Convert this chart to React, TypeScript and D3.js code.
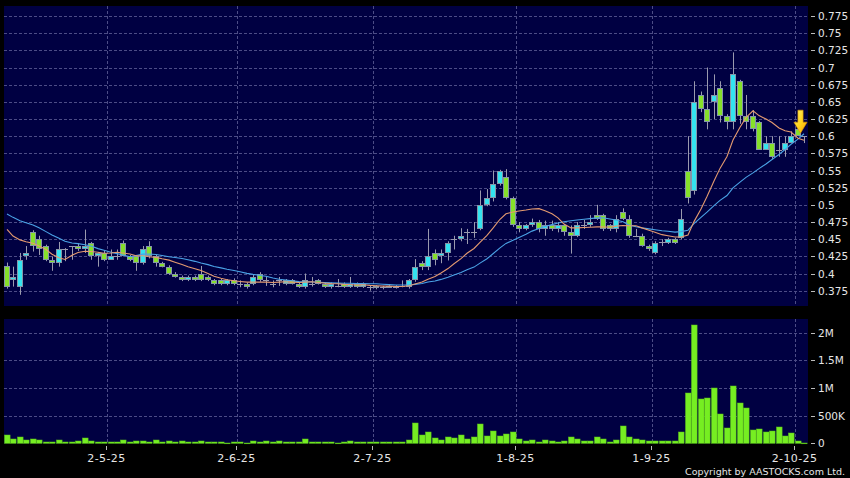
import React from "react";
import * as d3 from "d3";

// ---------- DATA ----------
const tradingDates: string[] = [
  "2025-04-07","2025-04-08","2025-04-09","2025-04-10","2025-04-11","2025-04-14","2025-04-15","2025-04-16","2025-04-17","2025-04-22","2025-04-23","2025-04-24","2025-04-25","2025-04-28","2025-04-29","2025-04-30",
  "2025-05-02","2025-05-06","2025-05-07","2025-05-08","2025-05-09","2025-05-12","2025-05-13","2025-05-14","2025-05-15","2025-05-16","2025-05-19","2025-05-20","2025-05-21","2025-05-22","2025-05-23","2025-05-26","2025-05-27","2025-05-28","2025-05-29","2025-05-30",
  "2025-06-02","2025-06-03","2025-06-04","2025-06-05","2025-06-06","2025-06-09","2025-06-10","2025-06-11","2025-06-12","2025-06-13","2025-06-16","2025-06-17","2025-06-18","2025-06-19","2025-06-20","2025-06-23","2025-06-24","2025-06-25","2025-06-26","2025-06-27","2025-06-30",
  "2025-07-02","2025-07-03","2025-07-04","2025-07-07","2025-07-08","2025-07-09","2025-07-10","2025-07-11","2025-07-14","2025-07-15","2025-07-16","2025-07-17","2025-07-18","2025-07-21","2025-07-22","2025-07-23","2025-07-24","2025-07-25","2025-07-28","2025-07-29","2025-07-30","2025-07-31",
  "2025-08-01","2025-08-04","2025-08-05","2025-08-06","2025-08-07","2025-08-08","2025-08-11","2025-08-12","2025-08-13","2025-08-14","2025-08-15","2025-08-18","2025-08-19","2025-08-20","2025-08-21","2025-08-22","2025-08-25","2025-08-26","2025-08-27","2025-08-28","2025-08-29",
  "2025-09-01","2025-09-02","2025-09-03","2025-09-04","2025-09-05","2025-09-08","2025-09-09","2025-09-10","2025-09-11","2025-09-12","2025-09-15","2025-09-16","2025-09-17","2025-09-18","2025-09-19","2025-09-22","2025-09-23","2025-09-24","2025-09-25","2025-09-26","2025-09-29","2025-09-30",
  "2025-10-02","2025-10-03",
];

const opens: number[] = [
  0.411,0.390,0.380,0.425,0.460,0.450,0.440,0.420,0.415,0.435,
  0.440,0.440,0.435,0.445,0.425,0.430,0.420,0.425,0.445,0.425,
  0.425,0.415,0.440,0.425,0.415,0.410,0.400,0.395,0.390,0.395,
  0.400,0.395,0.390,0.390,0.385,0.390,0.385,0.385,0.385,0.400,
  0.390,0.385,0.390,0.385,0.390,0.385,0.380,0.385,0.390,0.385,
  0.380,0.382,0.385,0.380,0.385,0.380,0.380,0.382,0.380,0.382,
  0.380,0.382,0.380,0.390,0.415,0.410,0.430,0.425,0.430,0.450,
  0.450,0.460,0.460,0.465,0.500,0.510,0.530,0.540,0.510,0.470,
  0.465,0.470,0.475,0.465,0.470,0.465,0.470,0.460,0.455,0.470,
  0.470,0.485,0.485,0.470,0.465,0.490,0.480,0.455,0.455,0.440,
  0.430,0.446,0.445,0.450,0.452,0.550,0.520,0.660,0.640,0.650,
  0.670,0.630,0.620,0.680,0.630,0.630,0.620,0.580,0.590,0.580,
  0.580,0.590,0.610,0.600,
];
const highs: number[] = [
  0.416,0.410,0.430,0.440,0.463,0.455,0.442,0.425,0.446,0.437,
  0.440,0.444,0.464,0.446,0.431,0.433,0.435,0.435,0.448,0.427,
  0.427,0.440,0.447,0.427,0.417,0.412,0.402,0.397,0.397,0.397,
  0.411,0.397,0.392,0.392,0.392,0.393,0.390,0.387,0.398,0.402,
  0.395,0.390,0.395,0.392,0.392,0.387,0.400,0.395,0.392,0.387,
  0.387,0.392,0.387,0.395,0.387,0.387,0.383,0.383,0.382,0.383,
  0.383,0.390,0.392,0.421,0.418,0.465,0.435,0.435,0.447,0.455,
  0.466,0.465,0.475,0.521,0.523,0.550,0.551,0.552,0.512,0.475,
  0.472,0.480,0.478,0.477,0.477,0.475,0.472,0.470,0.475,0.478,
  0.485,0.500,0.487,0.472,0.485,0.495,0.485,0.465,0.458,0.442,
  0.447,0.450,0.452,0.452,0.494,0.600,0.680,0.665,0.700,0.690,
  0.680,0.632,0.722,0.682,0.660,0.638,0.622,0.600,0.600,0.600,
  0.600,0.607,0.620,0.600,
];
const lows: number[] = [
  0.378,0.381,0.369,0.420,0.432,0.427,0.418,0.404,0.410,0.418,
  0.420,0.433,0.430,0.420,0.410,0.418,0.420,0.420,0.425,0.418,
  0.404,0.413,0.422,0.410,0.409,0.398,0.394,0.389,0.389,0.389,
  0.389,0.389,0.383,0.383,0.383,0.383,0.380,0.378,0.383,0.388,
  0.382,0.380,0.382,0.383,0.384,0.379,0.378,0.381,0.384,0.379,
  0.378,0.380,0.379,0.379,0.379,0.379,0.375,0.377,0.377,0.379,
  0.378,0.380,0.378,0.388,0.405,0.405,0.412,0.415,0.419,0.435,
  0.447,0.443,0.452,0.463,0.498,0.505,0.528,0.508,0.468,0.460,
  0.463,0.468,0.460,0.455,0.462,0.460,0.455,0.429,0.453,0.465,
  0.468,0.478,0.462,0.462,0.460,0.478,0.452,0.453,0.439,0.433,
  0.428,0.440,0.443,0.443,0.450,0.502,0.515,0.635,0.610,0.625,
  0.620,0.610,0.610,0.618,0.610,0.607,0.580,0.580,0.567,0.570,
  0.570,0.590,0.600,0.590,
];
const closes: number[] = [
  0.380,0.395,0.420,0.430,0.440,0.435,0.420,0.415,0.435,0.435,
  0.440,0.435,0.440,0.425,0.430,0.420,0.425,0.425,0.425,0.420,
  0.415,0.435,0.425,0.415,0.410,0.400,0.395,0.390,0.395,0.390,
  0.390,0.390,0.385,0.385,0.390,0.385,0.385,0.380,0.395,0.390,
  0.390,0.385,0.390,0.390,0.385,0.380,0.390,0.385,0.385,0.380,
  0.385,0.382,0.380,0.385,0.380,0.385,0.380,0.380,0.380,0.380,
  0.380,0.382,0.390,0.410,0.410,0.425,0.420,0.430,0.445,0.450,
  0.455,0.460,0.460,0.500,0.510,0.530,0.550,0.510,0.470,0.465,
  0.470,0.475,0.465,0.470,0.465,0.470,0.460,0.455,0.470,0.470,
  0.475,0.480,0.465,0.465,0.480,0.480,0.455,0.455,0.440,0.435,
  0.445,0.446,0.450,0.445,0.480,0.510,0.650,0.640,0.620,0.660,
  0.630,0.620,0.690,0.630,0.620,0.610,0.580,0.590,0.570,0.580,
  0.590,0.600,0.600,0.600,
];
const volumes: number[] = [
  145000,72000,108000,60000,72000,54000,24000,24000,54000,30000,
  30000,36000,90000,42000,30000,30000,18000,24000,54000,24000,
  48000,48000,24000,60000,24000,42000,30000,42000,24000,24000,
  48000,24000,18000,18000,12000,30000,24000,6000,36000,30000,
  36000,24000,42000,24000,24000,30000,72000,18000,18000,18000,
  18000,6000,18000,48000,24000,30000,24000,18000,30000,24000,
  30000,24000,66000,361000,157000,205000,102000,54000,114000,96000,
  151000,72000,108000,343000,133000,217000,133000,163000,211000,72000,
  42000,54000,18000,66000,36000,18000,42000,114000,78000,48000,
  48000,114000,78000,18000,60000,313000,114000,84000,60000,42000,
  42000,42000,42000,36000,211000,910000,2133000,795000,825000,994000,
  524000,277000,1030000,729000,645000,241000,259000,199000,217000,295000,
  127000,187000,42000,12000,
];
// moving-average values for the first days (history before the window)
const ma10Head: number[] = [0.4644,0.4546,0.449,0.4464,0.444,0.440,0.435,0.428,0.423];
const ma20Head: number[] = [0.4867,0.4818,0.477,0.474,0.4707,0.4667,0.461,0.456,0.4513,0.447,0.4445,0.4435,0.442,0.440,0.4363,0.434,0.431,0.429,0.427];

const priceTicks: number[] = [0.375,0.4,0.425,0.45,0.475,0.5,0.525,0.55,0.575,0.6,0.625,0.65,0.675,0.7,0.725,0.75,0.775];
const volumeTicks: number[] = [0,500000,1000000,1500000,2000000];
const volumeTickLabels: string[] = ["0","500K","1M","1.5M","2M"];
const xTickDates: string[] = ["2025-05-02","2025-06-02","2025-07-02","2025-08-01","2025-09-01","2025-10-02"];
const xTickLabels: string[] = ["2-5-25","2-6-25","2-7-25","1-8-25","1-9-25","2-10-25"];
const markerDate = "2025-10-02";

// ---------- STYLE ----------
const NAVY = "#000042";
const GRID = "#4c4c86";
const UP = "#34e3f0";
const DOWN = "#86e02a";
const EDGE = "#8595a8";
const WICK = "#9a9aae";
const MA10C = "#e49a70";
const MA20C = "#4aa2e6";
const VOL = "#76ee22";
const TXT = "#e6e6e6";
const FONT = "'DejaVu Sans', Verdana, sans-serif";

function sma(n: number, head: number[]): number[] {
  return closes.map((_, i) => {
    if (i < head.length) return head[i];
    const s = d3.sum(closes.slice(i - n + 1, i + 1));
    return s / n;
  });
}

export default function App() {
  React.useEffect(() => {
    document.body.style.margin = "0";
    document.body.style.background = "#000";
  }, []);

  const W = 850, H = 478;
  const left = 4, right = 808;
  const pTop = 6, pBot = 306;
  const vTop = 319, vBot = 443.3;

  const x = d3.scaleBand<string>().domain(tradingDates).range([3.5, 807.7]).paddingInner(0.2).paddingOuter(0.1);
  const step = x.step();
  const cx = (d: string) => Math.round((x(d) as number) + x.bandwidth() / 2);
  const slotLeft = (d: string) => Math.round((x(d) as number) - (step * 0.2) / 2) + 0.5;

  const yP = d3.scaleLinear().domain([0.375, 0.775]).range([290.7, 16]);
  const yV = d3.scaleLinear().domain([0, 2000000]).range([vBot, 332.7]);

  const ma10 = sma(10, ma10Head);
  const ma20 = sma(20, ma20Head);
  const line = d3.line<number>().x((_, i) => cx(tradingDates[i])).y((v) => yP(v));

  const mi = tradingDates.indexOf(markerDate);
  const tx = cx(markerDate) + 2.5;
  const ty = yP(closes[mi]) - 3;
  const arrow = `M${tx - 2.6},${ty - 23} L${tx + 2.6},${ty - 23} L${tx + 2.6},${ty - 11} L${tx + 6.6},${ty - 11} L${tx},${ty} L${tx - 6.6},${ty - 11} L${tx - 2.6},${ty - 11} Z`;

  return (
    <svg width={W} height={H} style={{ position: "absolute", left: 0, top: 0, display: "block" }} xmlns="http://www.w3.org/2000/svg">
      <defs>
        <linearGradient id="arr" x1="0" y1="0" x2="1" y2="1">
          <stop offset="0" stopColor="#fff36a" />
          <stop offset="0.55" stopColor="#ffd21a" />
          <stop offset="1" stopColor="#f5a000" />
        </linearGradient>
        <clipPath id="pclip"><rect x={left} y={pTop} width={right - left} height={pBot - pTop} /></clipPath>
      </defs>
      <rect x={0} y={0} width={W} height={H} fill="#000" />
      <rect x={left} y={pTop} width={right - left} height={pBot - pTop} fill={NAVY} />
      <rect x={left} y={vTop} width={right - left} height={vBot - vTop} fill={NAVY} />

      {/* grid */}
      <g stroke={GRID} strokeWidth={1} strokeDasharray="3,2" fill="none">
        {priceTicks.map((t) => (
          <line key={"pg" + t} x1={left} x2={right} y1={Math.round(yP(t)) + 0.5} y2={Math.round(yP(t)) + 0.5} />
        ))}
        {volumeTicks.slice(1).map((t) => (
          <line key={"vg" + t} x1={left} x2={right} y1={Math.round(yV(t)) + 0.5} y2={Math.round(yV(t)) + 0.5} />
        ))}
        {xTickDates.map((d) => (
          <g key={"xg" + d}>
            <line x1={slotLeft(d)} x2={slotLeft(d)} y1={pTop} y2={pBot} />
            <line x1={slotLeft(d)} x2={slotLeft(d)} y1={vTop} y2={vBot} />
          </g>
        ))}
      </g>

      {/* candles */}
      <g clipPath="url(#pclip)">
        {tradingDates.map((d, i) => {
          const c = cx(d);
          const o = opens[i], cl = closes[i];
          const yTop = Math.round(yP(Math.max(o, cl)));
          const yB = Math.round(yP(Math.min(o, cl)));
          const doji = Math.abs(o - cl) < 1e-9;
          const fill = cl > o ? UP : DOWN;
          return (
            <g key={"c" + d}>
              <line x1={c + 0.5} x2={c + 0.5} y1={yP(highs[i])} y2={yP(lows[i])} stroke={WICK} strokeWidth={1} />
              {doji ? (
                <line x1={c - 3} x2={c + 3} y1={yTop + 0.5} y2={yTop + 0.5} stroke={WICK} strokeWidth={1} />
              ) : (
                <rect x={c - 2.5} y={yTop + 0.5} width={5} height={Math.max(yB - yTop - 1, 1)} fill={fill} stroke={EDGE} strokeWidth={1} />
              )}
            </g>
          );
        })}
        <path d={line(ma20) || ""} fill="none" stroke={MA20C} strokeWidth={1.1} />
        <path d={line(ma10) || ""} fill="none" stroke={MA10C} strokeWidth={1.1} />
        <path d={arrow} fill="url(#arr)" stroke="#d89400" strokeWidth={0.6} />
      </g>

      {/* volume */}
      <g>
        {tradingDates.map((d, i) => {
          const c = cx(d);
          const yt = Math.round(yV(volumes[i]));
          return (
            <rect key={"v" + d} x={c - 2.5} y={yt} width={5.6} height={Math.max(vBot - yt, 0.8)} fill={VOL} stroke="#5cc418" strokeWidth={0.5} />
          );
        })}
      </g>

      {/* price axis */}
      <g fontFamily={FONT} fontSize={10.5} fill={TXT}>
        {priceTicks.map((t) => (
          <g key={"pt" + t}>
            <line x1={811} x2={815} y1={Math.round(yP(t)) + 0.5} y2={Math.round(yP(t)) + 0.5} stroke="#bbbbbb" strokeWidth={1} />
            <text x={818} y={yP(t)} dominantBaseline="central">{String(t)}</text>
          </g>
        ))}
        {volumeTicks.map((t, i) => (
          <g key={"vt" + t}>
            <line x1={811} x2={815} y1={Math.round(yV(t)) + 0.5} y2={Math.round(yV(t)) + 0.5} stroke="#bbbbbb" strokeWidth={1} />
            <text x={818} y={yV(t)} dominantBaseline="central">{volumeTickLabels[i]}</text>
          </g>
        ))}
      </g>

      {/* x axis */}
      <g fontFamily={FONT} fontSize={11} fill={TXT}>
        {xTickDates.map((d, i) => (
          <g key={"xt" + d}>
            <line x1={slotLeft(d) - 1} x2={slotLeft(d) - 1} y1={446} y2={450} stroke="#bbbbbb" strokeWidth={1} />
            <text x={slotLeft(d) - 1} y={462} textAnchor="middle" letterSpacing={0.4}>{xTickLabels[i]}</text>
          </g>
        ))}
      </g>

      <text x={845} y={475} textAnchor="end" fontFamily={FONT} fontSize={9.5} fill={TXT}>Copyright by AASTOCKS.com Ltd.</text>
    </svg>
  );
}
